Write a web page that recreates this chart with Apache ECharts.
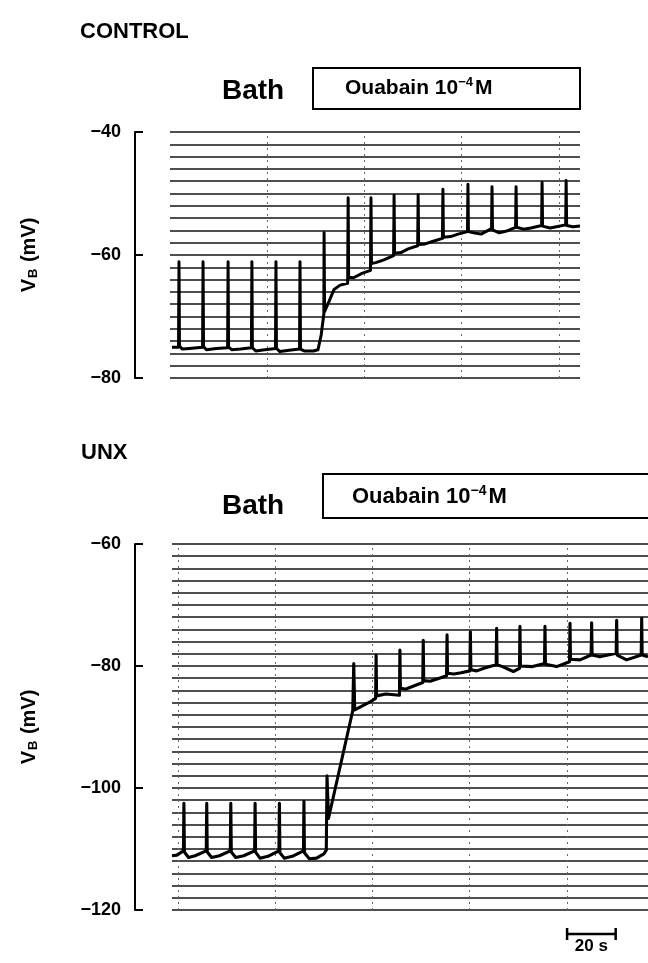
<!DOCTYPE html>
<html><head><meta charset="utf-8">
<script src="https://cdn.jsdelivr.net/npm/echarts@6/dist/echarts.min.js"></script>
<style>html,body{margin:0;padding:0;background:#fff}#c{width:648px;height:963px}</style>
</head><body><div id="c"></div>
<script>
// ---------- DATA (time in s, membrane potential VB in mV) ----------
const controlTime = [0.8,3.5,3.7,3.9,5.0,8,13.4,13.6,13.8,15,19,23.7,23.9,24.1,25.5,29,33.5,33.7,33.9,35.3,39,43.4,43.6,43.8,45.2,49,53.3,53.5,53.7,55.2,59,60.9,62.2,63.3,63.4,63.6,65.5,67.5,70.0,73.1,73.3,73.5,75.5,79,82.5,82.7,82.9,85,88,92.0,92.2,92.4,95,98,101.9,102.1,102.3,105,108,112.1,112.3,112.5,115.5,118.5,122.4,122.6,122.8,125,128,132.3,132.5,132.7,135.5,138.5,142.2,142.4,142.6,145.5,148.5,152.9,153.1,153.3,156.4,159,162.8,163.0,163.2,165.8,168.7];
const controlVm   = [-75.0,-75.0,-61.1,-74.8,-75.3,-75.2,-75.0,-61.1,-74.9,-75.4,-75.2,-75.1,-61.1,-75.0,-75.4,-75.3,-75.1,-61.1,-75.1,-75.6,-75.4,-75.2,-61.1,-75.2,-75.7,-75.5,-75.3,-61.1,-75.3,-75.6,-75.6,-75.4,-73.0,-69.6,-56.4,-69.2,-67.5,-65.6,-64.9,-64.6,-50.7,-63.6,-63.7,-63.0,-62.5,-50.7,-61.4,-61.2,-60.8,-60.1,-50.3,-59.7,-59.6,-59.0,-58.5,-50.2,-58.3,-58.2,-57.8,-57.3,-49.3,-57.1,-57.0,-56.6,-56.2,-48.5,-56.2,-56.4,-56.6,-55.7,-48.9,-55.9,-56.4,-56.1,-55.5,-48.9,-55.5,-55.8,-55.6,-55.2,-48.2,-55.3,-55.6,-55.4,-55.1,-47.9,-55.2,-55.4,-55.3];

const unxTime = [0,2,4.7,4.9,5.1,6.8,9.5,14.1,14.3,14.5,16.3,19.5,24.0,24.2,24.4,26.2,29.5,34.0,34.2,34.4,36.2,39.5,44.0,44.2,44.4,46.2,49.5,54.1,54.3,54.5,56.5,59.5,62.5,63.5,63.8,64.4,74.4,74.8,75.2,76.2,81.5,83.8,84.0,84.2,88,93.6,93.8,94.0,96,100,103.2,103.4,103.6,106.2,110,113.0,113.2,113.4,116,119,122.6,122.8,123.0,125.4,129,133.4,133.6,133.8,136,140.5,143.0,143.2,143.4,148.4,153.3,153.5,153.7,158.3,163.6,163.8,164.0,167.9,172.5,172.7,172.9,176.1,182.8,183.0,183.2,187.1,193.1,193.3,193.5,195.9];
const unxVm   = [-111.1,-111.0,-110.3,-102.5,-110.5,-111.4,-111.1,-110.3,-102.5,-110.5,-111.4,-111.1,-110.3,-102.5,-110.5,-111.4,-111.1,-110.3,-102.5,-110.5,-111.5,-111.2,-110.3,-102.5,-110.6,-111.5,-111.2,-110.3,-102.2,-110.6,-111.6,-111.5,-110.8,-110.2,-98.0,-105.0,-87.3,-79.6,-87.2,-87.0,-85.9,-85.3,-78.2,-84.9,-84.6,-84.8,-77.4,-83.6,-83.8,-83.2,-82.7,-75.8,-82.4,-82.5,-82.0,-81.6,-74.9,-81.2,-81.3,-81.1,-80.8,-74.4,-80.6,-80.8,-80.3,-79.8,-73.8,-79.8,-80.1,-80.9,-80.4,-73.5,-80.0,-80.1,-79.6,-73.5,-79.7,-80.1,-79.3,-73.0,-78.9,-79.0,-78.2,-72.9,-78.2,-78.5,-77.9,-72.5,-78.2,-79.0,-78.2,-72.2,-78.2,-78.5];

// chart-paper vertical time marks (s)
const controlMarks = [40, 80, 120, 160];
const unxMarks = [2.5, 42.5, 82.5, 122.5, 162.5];
// axis ranges
const controlRange = [-80, -40];
const unxRange = [-120, -60];
const scaleBar = { start: 162.6, seconds: 20, label: '20 s' };

const FONT = 'Liberation Sans, Arial, Helvetica, sans-serif';
const zip = (a, b) => a.map((t, i) => [t, b[i]]);

const chart = echarts.init(document.getElementById('c'), null, { renderer: 'canvas' });

function gridAxis(gi, range) {
  return {
    type: 'value', gridIndex: gi, min: range[0], max: range[1], interval: 2,
    axisLine: { show: false }, axisTick: { show: false }, axisLabel: { show: false },
    splitLine: { show: true, lineStyle: { color: '#151515', width: 1.5 } }
  };
}
function labelAxis(gi, range, offset) {
  return {
    type: 'value', gridIndex: gi, min: range[0], max: range[1], interval: 20, offset: offset,
    position: 'left',
    name: '{v|V}{s|B}{v| (mV)}', nameLocation: 'middle', nameRotate: 90, nameGap: 95,
    nameTextStyle: {
      fontFamily: FONT, fontWeight: 'bold', color: '#000',
      rich: {
        v: { fontFamily: FONT, fontWeight: 'bold', fontSize: 20, color: '#000', lineHeight: 22 },
        s: { fontFamily: FONT, fontWeight: 'bold', fontSize: 13, color: '#000', lineHeight: 22, verticalAlign: 'bottom', padding: [0, 1, 0, 1] }
      }
    },
    axisLine: { show: true, lineStyle: { color: '#000', width: 2 } },
    axisTick: { show: true, inside: true, length: 8, lineStyle: { color: '#000', width: 2 } },
    axisLabel: {
      show: true, margin: 14, color: '#000', fontFamily: FONT, fontWeight: 'bold', fontSize: 18,
      formatter: v => String(v).replace('-', '\u2212')
    },
    splitLine: { show: false }
  };
}
function markLines(marks) {
  return {
    silent: true, symbol: 'none', label: { show: false },
    lineStyle: { color: '#666', type: [2, 4], width: 1 },
    data: marks.map(t => ({ xAxis: t }))
  };
}

chart.setOption({
  animation: false,
  backgroundColor: '#fff',
  grid: [
    { left: 170, top: 132, width: 410, height: 246 },
    { left: 172, top: 544, width: 476, height: 366 }
  ],
  xAxis: [
    { type: 'value', gridIndex: 0, min: 0, max: 168.7, show: false },
    { type: 'value', gridIndex: 1, min: 0, max: 195.9, show: false }
  ],
  yAxis: [
    gridAxis(0, controlRange),
    labelAxis(0, controlRange, 35),
    gridAxis(1, unxRange),
    labelAxis(1, unxRange, 37)
  ],
  series: [
    {
      type: 'line', xAxisIndex: 0, yAxisIndex: 0, data: zip(controlTime, controlVm),
      showSymbol: false, symbol: 'none', lineStyle: { color: '#000', width: 3, join: 'round' },
      markLine: markLines(controlMarks), z: 5
    },
    {
      type: 'line', xAxisIndex: 1, yAxisIndex: 2, data: zip(unxTime, unxVm),
      showSymbol: false, symbol: 'none', lineStyle: { color: '#000', width: 3.1, join: 'round' },
      markLine: markLines(unxMarks), z: 5
    }
  ]
});

// 20 s scale bar drawn through the bottom panel's time scale
const x0 = chart.convertToPixel({ xAxisIndex: 1 }, scaleBar.start);
const x1 = chart.convertToPixel({ xAxisIndex: 1 }, scaleBar.start + scaleBar.seconds);
const yb = 934;
const ouabainRich = (fs, sfs) => ({
  a: { fontFamily: FONT, fontWeight: 'bold', fontSize: fs, fill: '#000', lineHeight: fs + 5 },
  b: { fontFamily: FONT, fontWeight: 'bold', fontSize: sfs, fill: '#000', lineHeight: fs + 5, padding: [0, 2, Math.round(fs * 0.55), 0] }
});
chart.setOption({
  graphic: [
    { id: 't1', type: 'text', left: 80, top: 21, style: { text: 'CONTROL', font: 'bold 22px ' + FONT, fill: '#000' } },
    { id: 't2', type: 'text', left: 222, top: 77, style: { text: 'Bath', font: 'bold 28px ' + FONT, fill: '#000' } },
    { id: 'r1', type: 'rect', shape: { x: 313, y: 68, width: 267, height: 41 }, style: { fill: 'none', stroke: '#000', lineWidth: 2 } },
    { id: 't3', type: 'text', left: 345, top: 76, style: { text: '{a|Ouabain 10}{b|\u22124}{a|M}', rich: ouabainRich(21, 13) } },
    { id: 't4', type: 'text', left: 81, top: 442, style: { text: 'UNX', font: 'bold 22px ' + FONT, fill: '#000' } },
    { id: 't5', type: 'text', left: 222, top: 492, style: { text: 'Bath', font: 'bold 28px ' + FONT, fill: '#000' } },
    { id: 'r2', type: 'rect', shape: { x: 323, y: 474, width: 340, height: 44 }, style: { fill: 'none', stroke: '#000', lineWidth: 2 } },
    { id: 't6', type: 'text', left: 352, top: 484, style: { text: '{a|Ouabain 10}{b|\u22124}{a|M}', rich: ouabainRich(22, 14) } },
    { id: 'sb1', type: 'line', shape: { x1: x0, y1: yb, x2: x1, y2: yb }, style: { stroke: '#000', lineWidth: 2.5 } },
    { id: 'sb2', type: 'line', shape: { x1: x0, y1: yb - 6, x2: x0, y2: yb + 6 }, style: { stroke: '#000', lineWidth: 2.5 } },
    { id: 'sb3', type: 'line', shape: { x1: x1, y1: yb - 6, x2: x1, y2: yb + 6 }, style: { stroke: '#000', lineWidth: 2.5 } },
    { id: 'sb4', type: 'text', x: (x0 + x1) / 2, y: yb + 4, style: { text: scaleBar.label, font: 'bold 17px ' + FONT, fill: '#000', align: 'center', verticalAlign: 'top' } }
  ]
});
</script></body></html>
